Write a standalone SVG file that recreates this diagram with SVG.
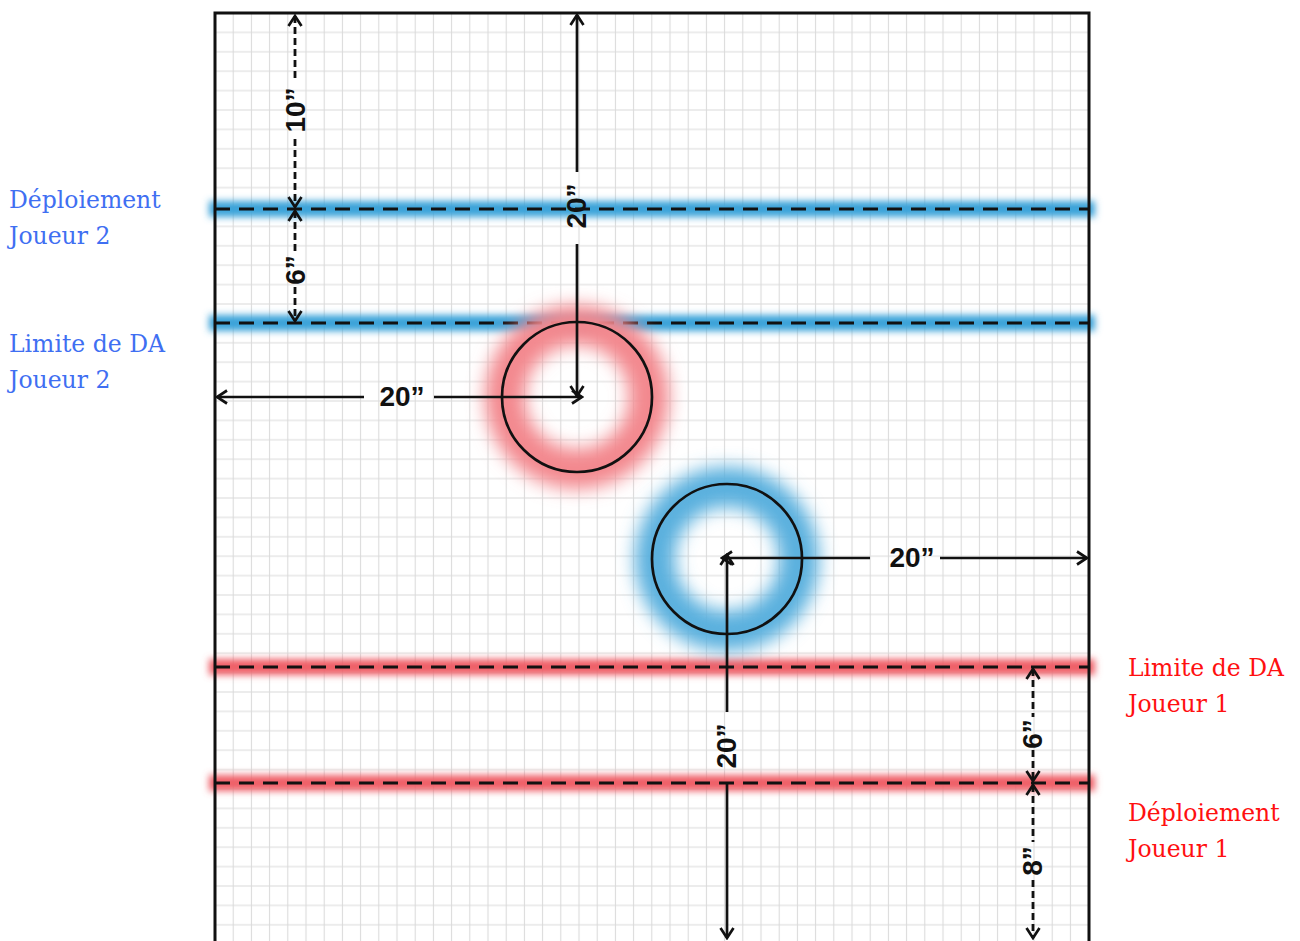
<svg xmlns="http://www.w3.org/2000/svg" width="1300" height="941" viewBox="0 0 1300 941">
  <style>
    .lbl { font-family: "DejaVu Serif", "Liberation Serif", serif; font-size: 23.5px; }
    .blue { fill: #3f6ff2; }
    .red { fill: #ff1010; }
    .dim { font-family: "Liberation Sans", Arial, sans-serif; font-weight: bold; font-size: 28px; fill: #111; text-anchor: middle; }
    .solid { stroke: #111; stroke-width: 2.7; fill: none; }
    .dash { stroke: #111; stroke-width: 2.8; fill: none; stroke-dasharray: 7 4; }
    .zone { stroke: #111; stroke-width: 3; stroke-dasharray: 15 9; fill: none; }
    .glowB { stroke: #3aa3d9; stroke-width: 16; fill: none; filter: url(#blurL); }
    .glowR { stroke: #ef5f68; stroke-width: 16; fill: none; filter: url(#blurL); }
  </style>
  <defs>
    <pattern id="grid" patternUnits="userSpaceOnUse" x="205.9" y="3.3" width="18.2" height="19.4">
      <path d="M9.1,0 V19.4 M0,9.7 H18.2" stroke="#dadada" stroke-width="1.1" fill="none"/>
    </pattern>
    <filter id="blurL" filterUnits="userSpaceOnUse" x="0" y="0" width="1300" height="941">
      <feGaussianBlur stdDeviation="3.5"/>
    </filter>
    <filter id="blurC" filterUnits="userSpaceOnUse" x="0" y="0" width="1300" height="941">
      <feGaussianBlur stdDeviation="9"/>
    </filter>
    <marker id="arr" viewBox="-12 -8 14 16" refX="0" refY="0" markerWidth="14" markerHeight="16" markerUnits="userSpaceOnUse" orient="auto-start-reverse">
      <path d="M-10,-6.5 L0,0 L-10,6.5" fill="none" stroke="#111" stroke-width="2.7" stroke-linejoin="miter"/>
    </marker>
  </defs>

  <rect width="1300" height="941" fill="#ffffff"/>

  <g id="board">
    <rect x="215" y="13" width="874" height="940" fill="#ffffff"/>
    <rect x="215" y="13" width="874" height="940" fill="url(#grid)"/>
  </g>

  <g id="zone-p2-deploy">
    <line class="glowB" x1="209" y1="209" x2="1095" y2="209"/>
    <line class="zone" x1="215" y1="209" x2="1089" y2="209"/>
  </g>
  <g id="zone-p2-limit">
    <line class="glowB" x1="209" y1="323" x2="1095" y2="323"/>
    <line class="zone" x1="215" y1="323" x2="1089" y2="323"/>
  </g>
  <g id="zone-p1-limit">
    <line class="glowR" x1="209" y1="667" x2="1095" y2="667"/>
    <line class="zone" x1="215" y1="667" x2="1089" y2="667"/>
  </g>
  <g id="zone-p1-deploy">
    <line class="glowR" x1="209" y1="783" x2="1095" y2="783"/>
    <line class="zone" x1="215" y1="783" x2="1089" y2="783"/>
  </g>

  <g id="objective-red">
    <circle cx="577" cy="397" r="72" fill="none" stroke="#f3888e" stroke-width="40" filter="url(#blurC)"/>
    <circle cx="577" cy="397" r="75" fill="none" stroke="#111" stroke-width="2.7"/>
  </g>
  <g id="objective-blue">
    <circle cx="727" cy="559" r="72" fill="none" stroke="#5ab0de" stroke-width="40" filter="url(#blurC)"/>
    <circle cx="727" cy="559" r="75" fill="none" stroke="#111" stroke-width="2.7"/>
  </g>

  <g id="board-edge">
    <path d="M215,953 V13 H1089 V953" fill="none" stroke="#111" stroke-width="3"/>
  </g>

  <g id="connectors">
    <line class="dash" x1="295" y1="16" x2="295" y2="82" marker-start="url(#arr)"/>
    <line class="dash" x1="295" y1="139" x2="295" y2="207" marker-end="url(#arr)"/>
    <line class="dash" x1="295" y1="211" x2="295" y2="254" marker-start="url(#arr)"/>
    <line class="dash" x1="295" y1="287" x2="295" y2="321" marker-end="url(#arr)"/>
    <line class="solid" x1="577" y1="15" x2="577" y2="172" marker-start="url(#arr)"/>
    <line class="solid" x1="577" y1="244" x2="577" y2="396" marker-end="url(#arr)"/>
    <line class="solid" x1="217" y1="397" x2="364" y2="397" marker-start="url(#arr)"/>
    <line class="solid" x1="434" y1="397" x2="582" y2="397" marker-end="url(#arr)"/>
    <line class="solid" x1="722" y1="558" x2="870" y2="558" marker-start="url(#arr)"/>
    <line class="solid" x1="940" y1="558" x2="1087" y2="558" marker-end="url(#arr)"/>
    <line class="solid" x1="727" y1="555" x2="727" y2="712" marker-start="url(#arr)"/>
    <line class="solid" x1="727" y1="783" x2="727" y2="938" marker-end="url(#arr)"/>
    <line class="dash" x1="1033" y1="669" x2="1033" y2="717" marker-start="url(#arr)"/>
    <line class="dash" x1="1033" y1="750" x2="1033" y2="781" marker-end="url(#arr)"/>
    <line class="dash" x1="1033" y1="785" x2="1033" y2="842" marker-start="url(#arr)"/>
    <line class="dash" x1="1033" y1="880" x2="1033" y2="938" marker-end="url(#arr)"/>
  </g>

  <g id="dim-labels">
    <text class="dim" transform="translate(305,110) rotate(-90)">10”</text>
    <text class="dim" transform="translate(305,270) rotate(-90)">6”</text>
    <text class="dim" transform="translate(586,206) rotate(-90)">20”</text>
    <text class="dim" x="402" y="406">20”</text>
    <text class="dim" x="912" y="567">20”</text>
    <text class="dim" transform="translate(736,746) rotate(-90)">20”</text>
    <text class="dim" transform="translate(1042,734) rotate(-90)">6”</text>
    <text class="dim" transform="translate(1042,861) rotate(-90)">8”</text>
  </g>

  <g id="label-p2-deploy">
    <text class="lbl blue" x="9" y="208">Déploiement</text>
    <text class="lbl blue" x="9" y="244">Joueur 2</text>
  </g>
  <g id="label-p2-limit">
    <text class="lbl blue" x="9" y="352">Limite de DA</text>
    <text class="lbl blue" x="9" y="388">Joueur 2</text>
  </g>
  <g id="label-p1-limit">
    <text class="lbl red" x="1128" y="676">Limite de DA</text>
    <text class="lbl red" x="1128" y="712">Joueur 1</text>
  </g>
  <g id="label-p1-deploy">
    <text class="lbl red" x="1128" y="821">Déploiement</text>
    <text class="lbl red" x="1128" y="857">Joueur 1</text>
  </g>
</svg>
